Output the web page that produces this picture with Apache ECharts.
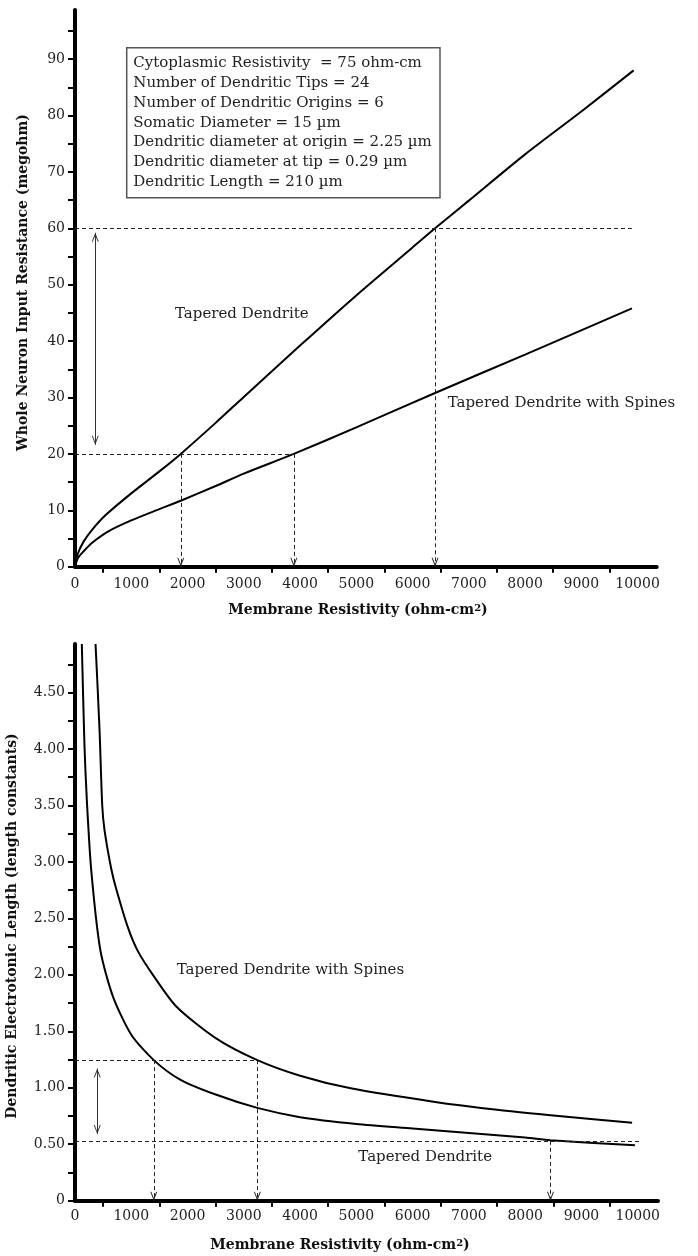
<!DOCTYPE html>
<html>
<head>
<meta charset="utf-8">
<script src="https://cdn.jsdelivr.net/npm/echarts@6/dist/echarts.min.js"></script>
<style>
  html, body { margin: 0; padding: 0; background: #fff; }
  #chart { width: 698px; height: 1256px; }
</style>
</head>
<body>
<div id="chart"></div>
<script>
// ---- Whole neuron input resistance (megohm) vs membrane resistivity (ohm-cm^2) ----
const rmInputTapered = [0, 50, 150, 300, 550, 1000, 1500, 1880, 2500, 3000, 4000, 5000, 6000, 6400, 7000, 8000, 9000, 9930];
const inputTapered   = [0, 2.3, 4.4, 6.5, 9.2, 13.0, 16.9, 20.0, 25.5, 30.1, 39.2, 48.1, 56.6, 60.0, 64.9, 73.1, 80.7, 88.0];

const rmInputSpines = [0, 50, 150, 300, 600, 1000, 1500, 1880, 2500, 3000, 3890, 5000, 6400, 8000, 9900];
const inputSpines   = [0, 1.5, 2.7, 4.2, 6.3, 8.2, 10.2, 11.7, 14.3, 16.5, 20.0, 24.7, 30.8, 37.6, 45.8];

// ---- Dendritic electrotonic length (length constants) vs membrane resistivity ----
const rmLengthTapered = [121, 169, 210, 288, 450, 673, 1000, 1400, 1860, 2500, 3240, 4000, 5000, 6000, 7000, 8000, 8450, 9950];
const lengthTapered   = [4.93, 4.02, 3.55, 2.93, 2.22, 1.81, 1.47, 1.245, 1.075, 0.94, 0.822, 0.74, 0.68, 0.64, 0.6, 0.56, 0.535, 0.49];

const rmLengthSpines = [365, 436, 484, 525, 644, 733, 940, 1117, 1384, 1800, 2500, 3240, 4000, 4900, 6370, 7500, 8450, 9900];
const lengthSpines   = [4.93, 4.17, 3.50, 3.28, 2.94, 2.76, 2.42, 2.21, 2.0, 1.72, 1.44, 1.245, 1.107, 0.995, 0.877, 0.805, 0.757, 0.69];

// Reading guides: dashed levels, drops to the axis, and the span arrow
const inputLevels = [[[0, 60], [9900, 60]], [[0, 20], [3890, 20]]];
const inputDrops  = [[1880, 20], [3890, 20], [6400, 60]];
const inputSpan   = [[360, 59.2], [360, 21.6]];

const lengthLevels = [[[0, 1.245], [3240, 1.245]], [[0, 0.53], [10040, 0.53]]];
const lengthDrops  = [[1400, 1.245], [3240, 1.245], [8450, 0.53]];
const lengthSpan   = [[395, 1.17], [395, 0.59]];

// Axis ticks and labels
const rmLabelValues = [0, 1000, 2000, 3000, 4000, 5000, 6000, 7000, 8000, 9000, 10000];
const rmTickValues  = [500, 1500, 2500, 3500, 4500, 5500, 6500, 7500, 8500, 9500];
const inputLabelValues = [0, 10, 20, 30, 40, 50, 60, 70, 80, 90];
const inputTickValues  = [0, 5, 10, 15, 20, 25, 30, 35, 40, 45, 50, 55, 60, 65, 70, 75, 80, 85, 90, 95];
const lengthLabelValues = [0, 0.5, 1, 1.5, 2, 2.5, 3, 3.5, 4, 4.5];
const lengthTickValues  = [0, 0.25, 0.5, 0.75, 1, 1.25, 1.5, 1.75, 2, 2.25, 2.5, 2.75, 3, 3.25, 3.5, 3.75, 4, 4.25, 4.5, 4.75];

// Model parameters listed in the inset box
const parameterLines = [
  'Cytoplasmic Resistivity  = 75 ohm-cm',
  'Number of Dendritic Tips = 24',
  'Number of Dendritic Origins = 6',
  'Somatic Diameter = 15 \u00b5m',
  'Dendritic diameter at origin = 2.25 \u00b5m',
  'Dendritic diameter at tip = 0.29 \u00b5m',
  'Dendritic Length = 210 \u00b5m'
];

const SERIF = "'DejaVu Serif', 'Liberation Serif', serif";
const CHEVRON = 'path://M5,0 L10,10 L8.6,10 L5,3 L1.4,10 L0,10 Z';

const zip = (xs, ys) => xs.map((x, i) => [x, ys[i]]);

function dashedGuides(levels, drops) {
  const items = levels.map(([a, b]) => [
    { coord: a, symbol: 'none' },
    { coord: b, symbol: 'none' }
  ]);
  drops.forEach(p => items.push([
    { coord: p, symbol: 'none' },
    { coord: [p[0], 0], symbol: CHEVRON, symbolSize: [7, 9], symbolOffset: [0, '50%'] }
  ]));
  return {
    silent: true,
    animation: false,
    symbol: ['none', 'none'],
    label: { show: false },
    emphasis: { disabled: true },
    lineStyle: { color: '#222', width: 1, type: [4, 3] },
    data: items
  };
}

function spanArrow(span) {
  return {
    silent: true,
    animation: false,
    label: { show: false },
    emphasis: { disabled: true },
    lineStyle: { color: '#333', width: 1, type: 'solid' },
    data: [[
      { coord: span[0], symbol: CHEVRON, symbolSize: [7, 9], symbolOffset: [0, '50%'] },
      { coord: span[1], symbol: CHEVRON, symbolSize: [7, 9], symbolOffset: [0, '50%'] }
    ]]
  };
}

function curve(name, gridIdx, data, markLine) {
  const s = {
    name,
    type: 'line',
    xAxisIndex: gridIdx,
    yAxisIndex: gridIdx,
    data,
    showSymbol: false,
    symbol: 'none',
    smooth: 0.25,
    clip: true,
    silent: true,
    lineStyle: { color: '#000', width: 2 }
  };
  if (markLine) s.markLine = markLine;
  return s;
}

function rmAxis(gridIdx, max, margin) {
  return {
    type: 'value',
    gridIndex: gridIdx,
    min: 0,
    max,
    axisLine: { onZero: false, lineStyle: { color: '#000', width: 4 } },
    axisTick: { show: true, customValues: rmTickValues, length: 6, lineStyle: { color: '#000', width: 2 } },
    axisLabel: {
      customValues: rmLabelValues,
      formatter: v => String(v),
      fontFamily: SERIF, fontSize: 14, color: '#222', margin
    },
    splitLine: { show: false }
  };
}

function valueAxis(gridIdx, max, ticks, labels, fmt) {
  return {
    type: 'value',
    gridIndex: gridIdx,
    min: 0,
    max,
    axisLine: { onZero: false, lineStyle: { color: '#000', width: 4 } },
    axisTick: { show: true, customValues: ticks, length: 7, lineStyle: { color: '#000', width: 2 } },
    axisLabel: {
      customValues: labels,
      formatter: fmt,
      fontFamily: SERIF, fontSize: 14, color: '#222', margin: 10
    },
    splitLine: { show: false }
  };
}

function plainText(text, x, y) {
  return {
    type: 'text',
    x, y,
    silent: true,
    style: {
      text,
      fontFamily: SERIF,
      fontSize: 15,
      fill: '#222',
      align: 'left',
      verticalAlign: 'middle'
    }
  };
}

function boldTitle(text, x, y, rotation) {
  return {
    type: 'text',
    x, y,
    rotation: rotation || 0,
    silent: true,
    style: {
      text,
      fontFamily: SERIF,
      fontSize: 14,
      fontWeight: 'bold',
      fill: '#111',
      align: 'center',
      verticalAlign: 'middle',
      rich: {
        sup: { fontFamily: SERIF, fontSize: 10, fontWeight: 'bold', fill: '#111', verticalAlign: 'top', lineHeight: 10 }
      }
    }
  };
}

const chart = echarts.init(document.getElementById('chart'), null, { renderer: 'canvas' });

chart.setOption({
  animation: false,
  backgroundColor: '#fff',
  grid: [
    { left: 75, top: 10, width: 581.7, height: 556.7 },
    { left: 75, top: 644, width: 583, height: 556.7 }
  ],
  xAxis: [
    rmAxis(0, 10340, 11),
    rmAxis(1, 10360, 9)
  ],
  yAxis: [
    valueAxis(0, 98.7, inputTickValues, inputLabelValues, v => String(v)),
    valueAxis(1, 4.93, lengthTickValues, lengthLabelValues, v => (v === 0 ? '0' : v.toFixed(2)))
  ],
  series: [
    curve('Tapered Dendrite', 0, zip(rmInputTapered, inputTapered), dashedGuides(inputLevels, inputDrops)),
    curve('Tapered Dendrite with Spines', 0, zip(rmInputSpines, inputSpines), spanArrow(inputSpan)),
    curve('Tapered Dendrite', 1, zip(rmLengthTapered, lengthTapered), dashedGuides(lengthLevels, lengthDrops)),
    curve('Tapered Dendrite with Spines', 1, zip(rmLengthSpines, lengthSpines), spanArrow(lengthSpan))
  ],
  graphic: [
    // parameter inset
    {
      type: 'rect',
      silent: true,
      shape: { x: 126.7, y: 47.7, width: 313.3, height: 150 },
      style: { fill: '#fff', stroke: '#555', lineWidth: 1.5 }
    },
    {
      type: 'text',
      x: 133.3, y: 53,
      silent: true,
      style: {
        text: parameterLines.join('\n'),
        fontFamily: SERIF, fontSize: 15, lineHeight: 19.9,
        fill: '#222', align: 'left', verticalAlign: 'top'
      }
    },
    // curve labels
    plainText('Tapered Dendrite', 175, 313.7),
    plainText('Tapered Dendrite with Spines', 447.7, 403),
    plainText('Tapered Dendrite with Spines', 176.7, 969.7),
    plainText('Tapered Dendrite', 358.3, 1157),
    // axis titles
    boldTitle('Whole Neuron Input Resistance (megohm)', 23, 282.5, Math.PI / 2),
    boldTitle('Membrane Resistivity (ohm-cm{sup|2})', 358, 610),
    boldTitle('Dendritic Electrotonic Length (length constants)', 12, 926, Math.PI / 2),
    boldTitle('Membrane Resistivity (ohm-cm{sup|2})', 340, 1245)
  ]
});
</script>
</body>
</html>
